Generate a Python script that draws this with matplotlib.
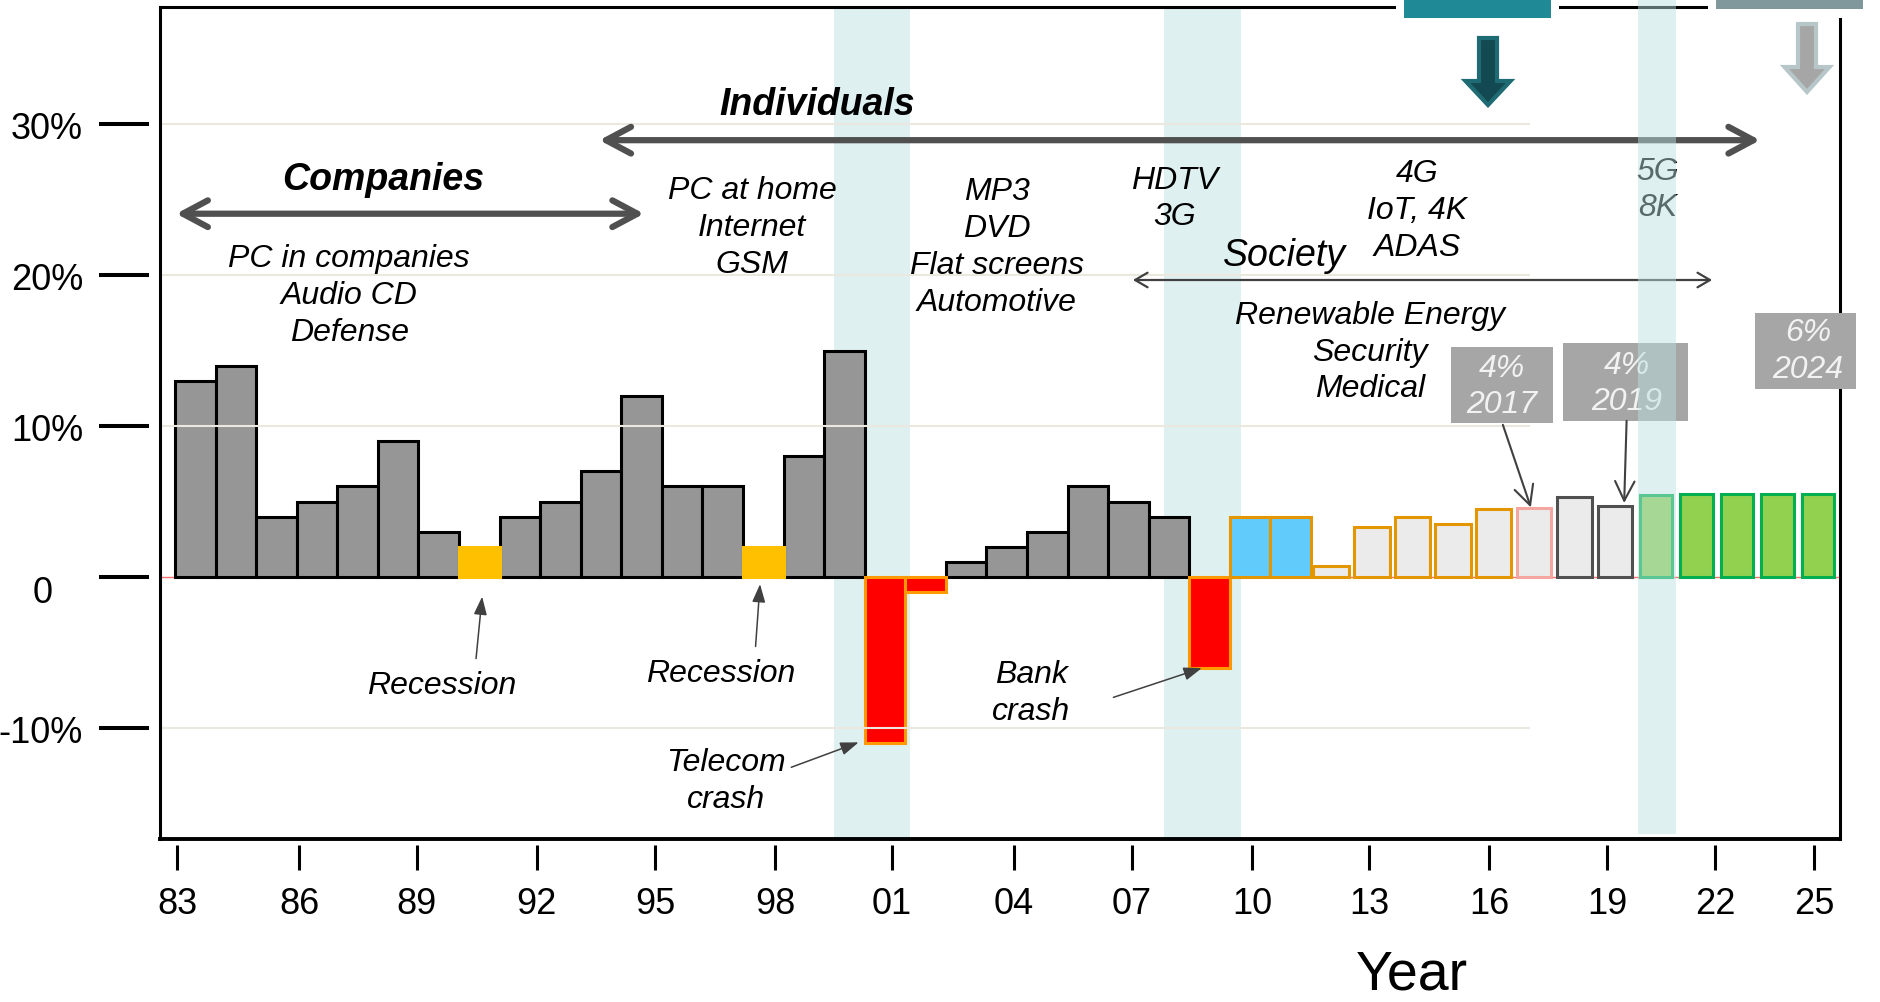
#Semiconductor market growth per year, with the big application waves
import numpy as np
import matplotlib
matplotlib.use('Agg')
import matplotlib.pyplot as plt
import matplotlib.transforms as mtransforms
from matplotlib.patches import Rectangle, FancyArrow
from matplotlib.lines import Line2D

plt.rcParams['font.family'] = ['Liberation Sans', 'DejaVu Sans']

# Data (growth in %)
years  = list(range(1983, 2024))
growth = [13, 14, 4, 5, 6, 9, 3, 2, 4, 5, 7, 12, 6, 6, 2, 8, 15,
          -11, -1, 1, 2, 3, 6, 5, 4, -6,
          4, 4, 0.7, 3.3, 4.0, 3.5, 4.5, 4.6, 5.3, 4.7, 5.4, 5.5, 5.5, 5.5, 5.5]
kind   = (['actual'] * 7 + ['recession'] + ['actual'] * 6 + ['recession'] + ['actual'] * 2
          + ['crash'] * 2 + ['actual'] * 6 + ['crash'] + ['rebound'] * 2 + ['recent'] * 5
          + ['fc2017'] + ['fc2019'] * 2 + ['fc2024'] * 5)

tick_labels = ['83', '86', '89', '92', '95', '98', '01', '04', '07', '10', '13', '16', '19', '22', '25']
yticks      = [-10, 0, 10, 20, 30]
ytick_text  = ['-10%', '0', '10%', '20%', '30%']

# Where the (irregular) year labels sit on the bar scale
tick_pos = [1983.05, 1986.06, 1988.96, 1991.92, 1994.83, 1997.79, 2000.67, 2003.68,
            2006.59, 2009.55, 2012.43, 2015.39, 2018.3, 2020.96, 2023.4]

styles = {
    'actual':    dict(fc='#969696', ec='black',   w=1.0,  z=2.0),
    'recession': dict(fc='#ffc000', ec='#ffc000', w=1.0,  z=2.1),
    'crash':     dict(fc='#ff0000', ec='#ff9900', w=1.0,  z=2.0),
    'rebound':   dict(fc='#61cbfb', ec='#e39600', w=1.0,  z=2.0),
    'recent':    dict(fc='#ebebeb', ec='#e39600', w=0.88, z=2.0),
    'fc2017':    dict(fc='#ebebeb', ec='#f4a6a0', w=0.82, z=2.0),
    'fc2019':    dict(fc='#ebebeb', ec='#505050', w=0.85, z=2.0),
    'fc2024':    dict(fc='#92d050', ec='#00b050', w=0.8,  z=2.0),
}

BAND = '#bce0e0'
ARROW = '#505050'
THIN = '#404040'
LS = 1.3   # line spacing of the notes

W, H = 1880, 1003
fig = plt.figure(figsize=(W / 100, H / 100), dpi=100)
ax = fig.add_axes([160 / W, 163 / H, 1680 / W, 832 / H])
ax.set_xlim(1982.63, 2024.04)
ax.set_ylim(-17.35, 37.75)

# crisis bands
ax.axvspan(1999.24, 2001.12, color=BAND, alpha=0.48, lw=0, zorder=0.5)
ax.axvspan(2007.38, 2009.28, color=BAND, alpha=0.48, lw=0, zorder=0.5)
ax.add_patch(Rectangle((2019.06, -17.02), 0.94, 60, fc=BAND, alpha=0.48, lw=0,
                       zorder=4, clip_on=False))

ax.axhline(0, color='#ff7070', lw=1, zorder=1)

for k, st in styles.items():
    idx = [i for i, kk in enumerate(kind) if kk == k]
    ax.bar([years[i] + 0.5 for i in idx], [growth[i] for i in idx], width=st['w'],
           color=st['fc'], edgecolor=st['ec'], linewidth=2.2, zorder=st['z'])

ax.hlines([-10, 10, 20, 30], 1982.63, 2016.4, color='#ebe9df', lw=1.5, zorder=2.5)

# axes frame and ticks
for s in ['top', 'right']:
    ax.spines[s].set_linewidth(2.2)
ax.spines['left'].set_position(('outward', 8))
ax.spines['bottom'].set_position(('outward', 4.5))
ax.spines['left'].set_visible(False)
ax.spines['bottom'].set_visible(False)
ax.add_line(Line2D([0, 0], [0, 1], transform=ax.transAxes, color='k', lw=2.2, clip_on=False, zorder=2.6))
ax.add_line(Line2D([0, 1], [0, 0], transform=ax.transAxes, color='k', lw=2.8, clip_on=False, zorder=2.6))

ax.set_yticks(yticks, labels=ytick_text)
ax.set_xticks(tick_pos, labels=tick_labels)
ax.tick_params(axis='y', length=36, width=2.9, pad=11.5, labelsize=26)
ax.tick_params(axis='x', length=18, width=2.2, pad=11, labelsize=26)
zero_lbl = ax.get_yticklabels()[1]
zero_lbl.set_transform(zero_lbl.get_transform()
                       + mtransforms.ScaledTranslation(-0.3, -0.11, fig.dpi_scale_trans))
ax.text(0.745, -0.18, 'Year', transform=ax.transAxes, ha='center', va='baseline', fontsize=40)

# text annotations
def note(x, y, s, size=23, **kw):
    ax.text(x, y, s, ha='center', va='center', fontsize=size, style='italic',
            linespacing=LS, zorder=3, **kw)

note(1998.84, 31.3, 'Individuals', size=27, weight='bold')
note(1988.14, 26.35, 'Companies', size=27, weight='bold')
note(1987.29, 18.7, 'PC in companies\nAudio CD\nDefense')
note(1997.22, 23.2, 'PC at home\nInternet\nGSM')
note(2003.25, 21.9, 'MP3\nDVD\nFlat screens\nAutomotive')
note(2007.65, 25.1, 'HDTV\n3G')
note(2013.61, 24.3, '4G\nIoT, 4K\nADAS')
note(2019.55, 25.7, '5G\n8K')
note(2010.34, 21.3, 'Society', size=27)
note(2012.45, 14.93, 'Renewable Energy\nSecurity\nMedical')
note(1989.56, -7.14, 'Recession')
note(1996.45, -6.34, 'Recession')
note(1996.57, -13.5, 'Telecom\ncrash')
note(2004.1, -7.62, 'Bank\ncrash')

def arrow(x0, y0, x1, y1, style, lw, color, scale):
    ax.annotate('', xy=(x1, y1), xytext=(x0, y0), zorder=3, annotation_clip=False,
                arrowprops=dict(arrowstyle=style, lw=lw, color=color,
                                mutation_scale=scale, shrinkA=0, shrinkB=0))

arrow(1993.46, 28.93, 2022.07, 28.93, '<->, head_length=0.6, head_width=0.32', 4.5, ARROW, 30)
arrow(1983.03, 24.06, 1994.56, 24.06, '<->, head_length=0.6, head_width=0.32', 4.5, ARROW, 30)
arrow(2006.61, 19.67, 2020.89, 19.67, '<->, head_length=0.6, head_width=0.35', 1.6, THIN, 15)
for x0, y0, x1, y1 in [(1990.42, -5.4, 1990.57, -1.3), (1997.31, -4.6, 1997.42, -0.47),
                       (1998.19, -12.6, 1999.85, -10.95), (2006.13, -7.97, 2008.31, -6.03)]:
    arrow(x0, y0, x1, y1, '-|>, head_length=0.55, head_width=0.2', 1.1, THIN, 20)

# forecast boxes
for (x0, x1, y0, y1), (tx, ty), s in [((2014.45, 2016.97, 10.2, 15.23), (2015.71, 12.65), '4%\n2017'),
                                      ((2017.22, 2020.29, 10.35, 15.5), (2018.78, 12.85), '4%\n2019'),
                                      ((2021.94, 2024.43, 12.45, 17.48), (2023.25, 15.0), '6%\n2024')]:
    ax.add_patch(Rectangle((x0, y0), x1 - x0, y1 - y0, fc='#a6a6a6', lw=0, zorder=3, clip_on=False))
    ax.text(tx, ty, s, ha='center', va='center', fontsize=23, style='italic', color='#f2f2f2',
            linespacing=LS, zorder=3.1)
arrow(2015.73, 10.08, 2016.42, 4.61, '->, head_length=0.7, head_width=0.35', 1.5, THIN, 20)
arrow(2018.78, 10.35, 2018.72, 4.9, '->, head_length=0.7, head_width=0.35', 1.5, THIN, 20)

# cropped header pieces at the top of the picture (pixel coordinates)
top = fig.add_axes([0, 0, 1, 1], zorder=10)
top.set_xlim(0, W)
top.set_ylim(H, 0)
top.axis('off')
top.patch.set_visible(False)
top.add_patch(Rectangle((1396, -2), 163, 29, fc='white', lw=0))
top.add_patch(Rectangle((1404, -2), 147, 21, fc='#1f8a96', lw=0))
top.add_patch(Rectangle((1708, -2), 172, 21, fc='white', lw=0))
top.add_patch(Rectangle((1716, -2), 147, 12, fc='#80979b', lw=0))
top.add_patch(FancyArrow(1488, 39, 0, 67, width=18, head_width=45, head_length=24,
                         length_includes_head=True, fc='#134a51', ec='#1f6b74', lw=3))
top.add_patch(FancyArrow(1807, 25, 0, 68, width=18, head_width=45, head_length=25,
                         length_includes_head=True, fc='#a6a6a6', ec='#b7c7c9', lw=3))

fig.savefig('out.png', dpi=100)
